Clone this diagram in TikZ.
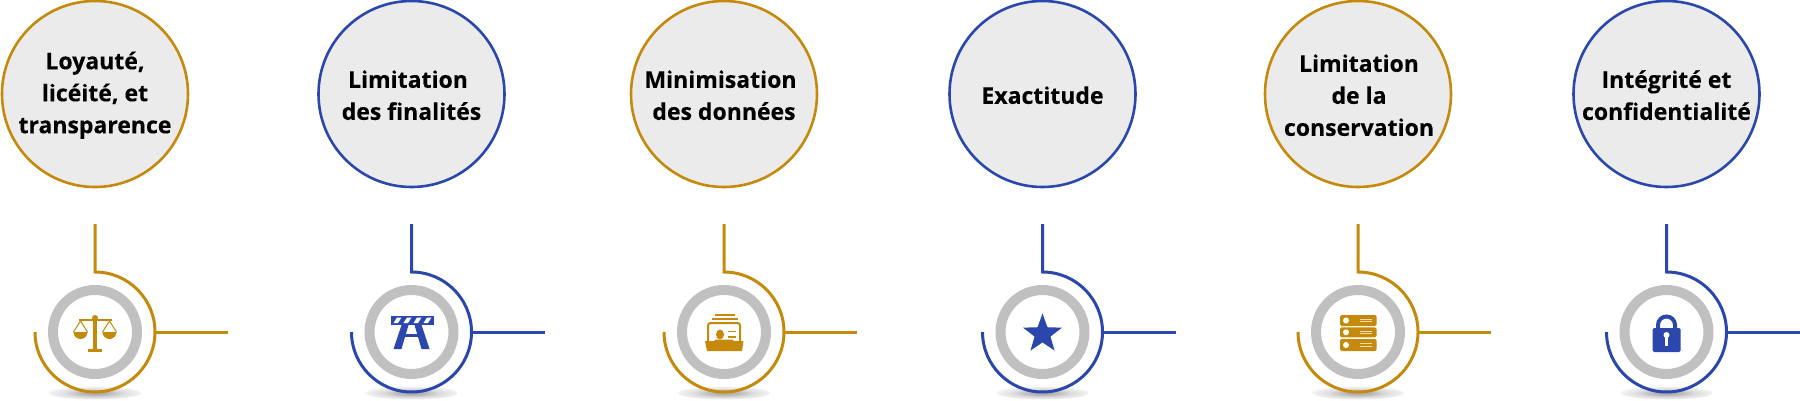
\documentclass[tikz,border=0pt]{standalone}
\usepackage{fontspec}
\setmainfont{Open Sans}[BoldFont={* Bold},BoldFeatures={FakeBold=0.25}]
\usetikzlibrary{shapes.geometric}
\definecolor{gold}{HTML}{C58A0C}
\definecolor{royal}{HTML}{2B47AD}
\definecolor{pale}{HTML}{EBEBEB}
\definecolor{ringgrey}{HTML}{C0C0C0}
\pgfdeclareradialshading{floorshadow}{\pgfpointorigin}{color(0bp)=(black!34); color(8bp)=(black!27); color(16bp)=(black!13); color(26bp)=(black!4); color(34bp)=(white); color(50bp)=(white)}
\tikzset{
  topic/.style={circle,draw=#1,fill=pale,line width=2.6pt,minimum size=186pt,inner sep=0pt},
  caption/.style={align=center,inner sep=0pt,font=\fontsize{23}{32}\selectfont\bfseries,text=black},
  link/.style={draw=#1,line width=3pt},
  ringstyle/.style={circle,draw=ringgrey,line width=10pt,minimum size=84pt,inner sep=0pt,fill=white},
  floor/.style={ellipse,minimum width=92pt,minimum height=13pt,inner sep=0pt,shading=floorshadow},
}
% #1 id, #2 x, #3 colour, #4 text, #5 text x offset
\newcommand{\pillar}[5]{%
  \node[floor] (sh#1) at (#2,7) {};
  \node[topic=#3] (c#1) at (#2,306) {};
  \node[caption] (l#1) at (#2+#5,304.8) {#4};
  \coordinate (t#1) at (#2,176);
  \coordinate (a#1) at (#2,128);
  \coordinate (h#1) at (#2+61,68);
  \coordinate (e#1) at (#2+133,68);
  \node[ringstyle] (r#1) at (#2,68) {};
  \draw[link=#3,line join=miter] (t#1) -- (a#1) arc[start angle=90,end angle=-180,radius=60];
  \draw[link=#3] (h#1) -- (e#1);
}
\begin{document}
\begin{tikzpicture}[x=1pt,y=1pt]
\useasboundingbox (0,0) rectangle (1800,400);
\fill[white] (0,0) rectangle (1800,400);
\pillar{1}{95}{gold}{Loyauté,\\licéité, et\\transparence}{0}
\pillar{2}{411.5}{royal}{Limitation\hspace*{7pt}\\des finalités}{0}
\pillar{3}{724}{gold}{Minimisation\hspace*{7pt}\\des données}{0}
\pillar{4}{1042.5}{royal}{Exactitude}{0}
\pillar{5}{1358}{gold}{Limitation\\de la\\conservation}{1}
\pillar{6}{1666.5}{royal}{Intégrité et\\confidentialité}{0}

% scales
\begin{scope}[shift={(95,68)},yscale=-1,gold]
  \fill (-2,-13) rectangle (2,17);
  \fill (-16.5,-13) rectangle (16.5,-11);
  \fill (-7,16.5) rectangle (7,19.5);
  \fill (0,-14) circle (3);
  \draw[line width=1pt] (-7.5,0) -- (-14.5,-11) -- (-21.5,0);
  \draw[line width=1pt] (7.5,0) -- (14.5,-11) -- (21.5,0);
  \fill (-7.5,0) arc[start angle=0,end angle=180,radius=7] -- cycle;
  \fill (21.5,0) arc[start angle=0,end angle=180,radius=7] -- cycle;
\end{scope}

% barrier
\begin{scope}[shift={(411.5,68)},yscale=-1,royal]
  \fill (-10,-7) -- (-3,-7) -- (-10,17) -- (-18,17) -- cycle;
  \fill (3,-7) -- (10,-7) -- (18,17) -- (10,17) -- cycle;
  \fill (-7,1.5) rectangle (7,5);
  \fill (-21,-16.5) rectangle (22,-7);
  \foreach \s in {-18,-8,2,12}
    \fill[white] (\s,-9) -- (\s+3.5,-14.5) -- (\s+8,-14.5) -- (\s+4.5,-9) -- cycle;
\end{scope}

% card box
\begin{scope}[shift={(724,68)},yscale=-1,gold]
  \fill (-9,-18) rectangle (11,-16);
  \fill (-12,-14.5) rectangle (13.5,-12);
  \draw[line width=2pt,rounded corners=2.5pt] (-16,9) -- (-16,-9) -- (16,-9) -- (16,9);
  \fill (-4,2.5) ellipse (4 and 5);
  \fill (3.5,-1.5) rectangle (12,0);
  \fill (3.5,4) rectangle (12,5.5);
  \fill (-19,9) -- (-10,9) -- (-8,7.5) -- (8,7.5) -- (10,9) -- (19.5,9) -- (18,19) -- (-17,19) -- cycle;
\end{scope}

% star
\node[star,star points=5,star point ratio=2.45,fill=royal,minimum size=41pt,inner sep=0pt] (star4) at (1042.5,66) {};

% server
\begin{scope}[shift={(1358,68)},yscale=-1]
  \foreach \a/\b in {-17/-6,-4.7/5.3,7/19}{
    \fill[gold,rounded corners=1.5pt] (-18,\a) rectangle (18.5,\b);
    \fill[white] (-12,{(\a+\b)/2}) circle (3);
    \fill[white!70!gold] (2,{(\a+\b)/2-1.6}) rectangle (14,{(\a+\b)/2-0.6});
    \fill[white!70!gold] (2,{(\a+\b)/2+0.6}) rectangle (14,{(\a+\b)/2+1.6});
  }
\end{scope}

% padlock
\begin{scope}[shift={(1666.5,68)},yscale=-1]
  \draw[royal,line width=4pt] (-8.5,0) -- (-8.5,-7) arc[start angle=180,end angle=0,radius=8.5,y radius=-8.5] -- (8.5,0);
  \fill[royal,rounded corners=1.5pt] (-14,-4) rectangle (14,20);
  \fill[white] (0,3) circle (3);
  \fill[white] (-1.5,3) rectangle (1.5,14);
\end{scope}
\end{tikzpicture}
\end{document}
